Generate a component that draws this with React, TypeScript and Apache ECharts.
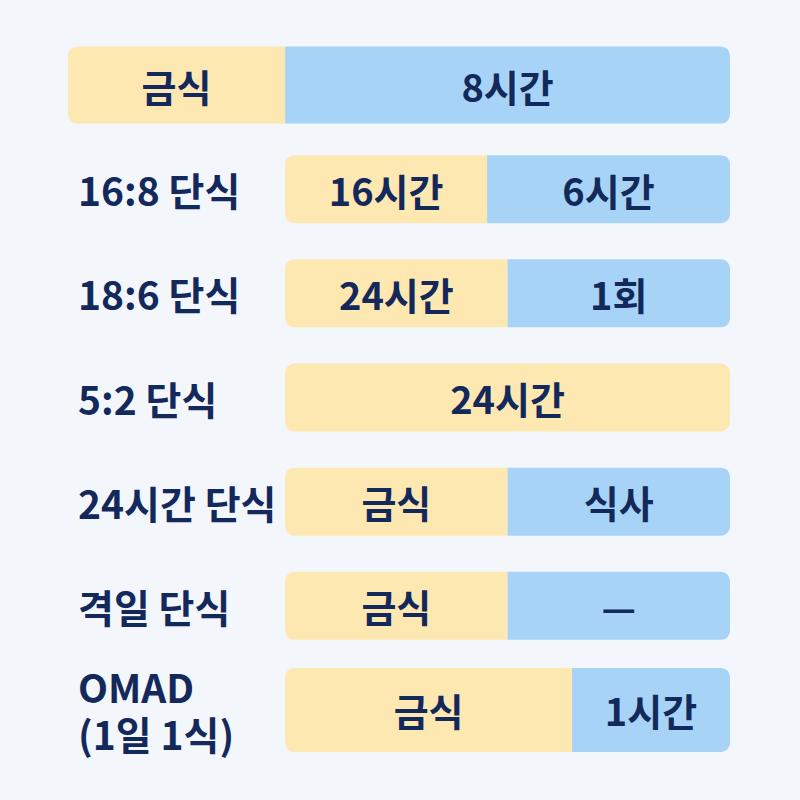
import React, { useEffect, useRef } from 'react';
import * as echarts from 'echarts';

// Row categories (top to bottom); the first row is the header row.
const categories = ['', '16:8 단식', '18:6 단식', '5:2 단식', '24시간 단식', '격일 단식', 'OMAD\n(1일 1식)'];
// Segment lengths (right column width = 100). Header fasting segment extends into the label column.
const fastValues = [-48.8, 45.4, 50, 100, 50, 50, 64.5];
const eatValues = [100, 54.6, 50, 0, 50, 50, 35.5];
const fastLabels = ['금식', '16시간', '24시간', '24시간', '금식', '금식', '금식'];
const eatLabels = ['8시간', '6시간', '1회', '', '식사', '—', '1시간'];

const YELLOW = '#fee8b1';
const BLUE = '#a7d4f6';
const NAVY = '#14295b';
const FONT = '"Noto Sans CJK KR", "Noto Sans", sans-serif';

const groups = [
  { rows: [1, 2, 3, 4, 5], height: 68, stack: 'rows' },
  { rows: [0], height: 77, stack: 'header' },
  { rows: [6], height: 84, stack: 'omad' },
];

function buildSeries() {
  const series: any[] = [];
  const labelBase = {
    show: true,
    position: 'inside',
    color: NAVY,
    fontSize: 38,
    fontWeight: 'bold',
    fontFamily: FONT,
  };
  groups.forEach((g, gi) => {
    series.push({
      type: 'bar',
      name: '금식',
      yAxisIndex: gi,
      stack: g.stack,
      barWidth: g.height,
      clip: false,
      itemStyle: { color: YELLOW },
      label: { ...labelBase, formatter: (p: any) => fastLabels[p.dataIndex] },
      data: fastValues.map((v, i) =>
        g.rows.includes(i)
          ? { value: v, itemStyle: { borderRadius: eatValues[i] > 0 ? [9, 0, 0, 9] : 9 } }
          : '-'
      ),
    });
    series.push({
      type: 'bar',
      name: '식사',
      yAxisIndex: gi,
      stack: g.stack,
      barWidth: g.height,
      clip: false,
      itemStyle: { color: BLUE },
      label: { ...labelBase, formatter: (p: any) => eatLabels[p.dataIndex] },
      data: eatValues.map((v, i) =>
        g.rows.includes(i) && v > 0
          ? { value: v, itemStyle: { borderRadius: [0, 9, 9, 0] } }
          : '-'
      ),
    });
  });
  return series;
}

export default function App() {
  const ref = useRef<HTMLDivElement>(null);
  useEffect(() => {
    if (!ref.current) return;
    const chart = echarts.init(ref.current, null, { renderer: 'svg' });
    const yAxes = groups.map((_, gi) => ({
      type: 'category',
      data: categories,
      inverse: true,
      show: gi === 0,
      axisLine: { show: false, onZero: false },
      axisTick: { show: false },
      splitLine: { show: false },
      axisLabel: {
        show: gi === 0,
        inside: true,
        margin: 10,
        align: 'left',
        color: NAVY,
        fontSize: 39,
        fontWeight: 'bold',
        fontFamily: FONT,
        lineHeight: 47,
      },
    }));
    chart.setOption({
      animation: false,
      backgroundColor: '#f3f7fc',
      grid: { left: 68, right: 70, top: 33, bottom: 38, containLabel: false },
      xAxis: {
        type: 'value',
        min: -48.8,
        max: 100,
        show: false,
        splitLine: { show: false },
      },
      yAxis: yAxes,
      series: buildSeries(),
    });
    return () => chart.dispose();
  }, []);
  return (
    <div
      ref={ref}
      style={{ position: 'fixed', left: 0, top: 0, width: 800, height: 800 }}
    />
  );
}
